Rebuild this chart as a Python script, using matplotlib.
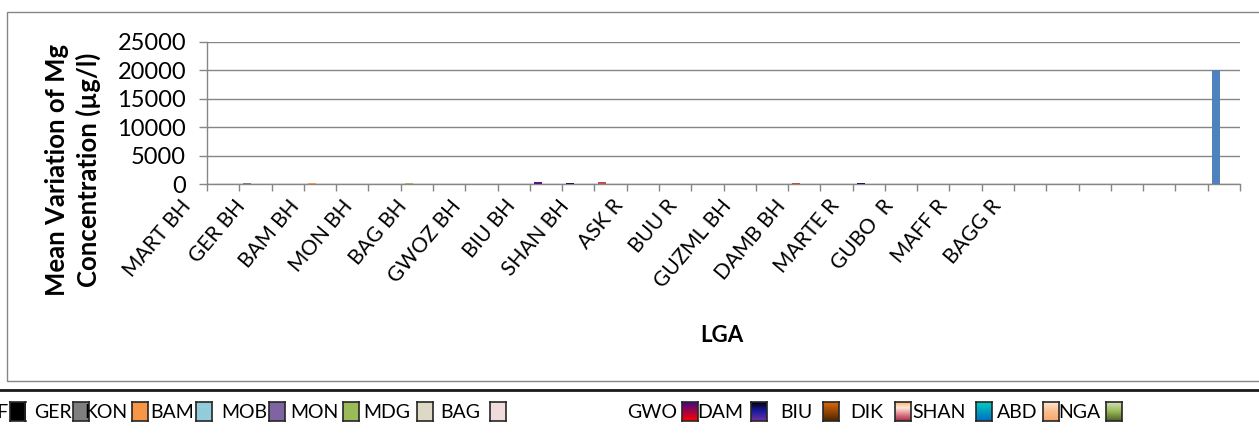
import numpy as np
import matplotlib.pyplot as plt
from matplotlib.colors import LinearSegmentedColormap
from matplotlib.patches import Rectangle
from matplotlib.lines import Line2D

plt.rcParams['font.family'] = ['Lato', 'DejaVu Sans']

# sampling sites shown on the category axis (every second category is labelled)
lga_labels = ['MART BH', 'GER BH', 'BAM BH', 'MON BH', 'BAG BH', 'GWOZ BH', 'BIU BH',
              'SHAN BH', 'ASK R', 'BUU R', 'GUZML BH', 'DAMB BH', 'MARTE R', 'GUBO  R',
              'MAFF R', 'BAGG R']

# mean Mg per category slot (µg/l)
mg_mean = [0, 150, 0, 170, 0, 0, 160, 0, 0, 0, 380, 220, 350, 40, 40, 40,
           40, 40, 180, 0, 220, 0, 40, 0, 0, 0, 0, 0, 40, 0, 0, 20000]
bar_colors = ['#7f7f7f', '#7f7f7f', '#7f7f7f', '#f79646', '#7f7f7f', '#7f7f7f', '#9bbb59', '#7f7f7f',
              '#7f7f7f', '#7f7f7f', '#5a1280', '#1c1c50', '#c0504d', '#c4bd97', '#b7dee8', '#e6b9b8',
              '#ccc1da', '#d7e4bd', '#c0504d', '#7f7f7f', '#1c1c50', '#7f7f7f', '#ccc1da', '#7f7f7f',
              '#7f7f7f', '#7f7f7f', '#7f7f7f', '#7f7f7f', '#c4bd97', '#7f7f7f', '#7f7f7f', '#4f81bd']

# series keys and their fills (one colour = flat, several = vertical gradient)
legend_names = ['MAF', 'GER', 'KON', 'BAM', 'MOB', 'MON', 'MDG', 'BAG',
                'GWO', 'DAM', 'BIU', 'DIK', 'SHAN', 'ABD', 'NGA']
legend_fills = [['#000000'], ['#7f7f7f'], ['#f79646'], ['#92cddc'], ['#8064a2'],
                ['#9bbb59'], ['#ddd9c4'], ['#f2dcdb'],
                ['#3c0a8c', '#ff0000'],
                ['#000000', '#1a1aa0', '#7030a0'],
                ['#e46c0a', '#4d2600'],
                ['#fbb05f', '#fde9d9', '#e0808a', '#a0304a'],
                ['#00d0c0', '#0070c0'],
                ['#fde9d9', '#fabf8f', '#f8a870'],
                ['#d7e4bd', '#9bbb59', '#4f6228']]

W, H = 1259, 445
fig = plt.figure(figsize=(W / 100, H / 100), dpi=100)

grey = '#868686'
ax = fig.add_axes([207 / W, 1 - 184.3 / H, 1033 / W, 142.6 / H])
x = np.arange(len(mg_mean))
ax.bar(x - 0.25, mg_mean, width=0.25, color=bar_colors, zorder=3)
ax.set_xlim(-0.5, len(mg_mean) - 0.5)
ax.set_ylim(0, 25000)
ax.set_yticks(np.arange(0, 25001, 5000))
ax.set_xticks(np.arange(-0.5, len(mg_mean)))
ax.set_xticklabels([])
ax.grid(axis='y', color=grey, lw=1.0)
ax.set_axisbelow(True)
for s in ['top', 'right']:
    ax.spines[s].set_visible(False)
for s in ['left', 'bottom']:
    ax.spines[s].set_color(grey)
    ax.spines[s].set_linewidth(1.0)
ax.tick_params(axis='x', length=5, color=grey, width=1.0)
ax.tick_params(axis='y', length=6, color=grey, width=1.0, labelsize=17, pad=9)

# category labels, rotated
for k, name in enumerate(lga_labels):
    ax.text(-0.0116 + 0.0523 * k, -0.082, name, transform=ax.transAxes,
            rotation=50, ha='right', va='top', fontsize=15, clip_on=False)

fig.text(73 / W, 1 - 170 / H, 'Mean Variation of Mg\nConcentration (µg/l)',
         rotation=90, ha='center', va='center', fontsize=18.5, fontweight='bold',
         linespacing=1.3)
fig.text(722 / W, 1 - 335 / H, 'LGA', ha='center', va='center',
         fontsize=16, fontweight='bold')

# chart frame and legend rule
fig.add_artist(Rectangle((7 / W, 1 - 381 / H), (1275 - 7) / W, (381 - 12) / H,
                         fill=False, ec=grey, lw=1.0, transform=fig.transFigure))
fig.add_artist(Line2D([0, 1], [1 - 390 / H] * 2, color='#1a1a1a', lw=2,
                      transform=fig.transFigure))

# legend: name followed by its swatch
legend_text_end = [8, 72, 127, 194, 267, 338, 410, 480, 677, 743, 813, 883, 966, 1037, 1100]
legend_box_x = [9.5, 73, 132, 196, 269, 343, 417, 490, 682, 751, 823, 895, 976, 1043, 1106]
for name, fill, tx, bx in zip(legend_names, legend_fills, legend_text_end, legend_box_x):
    fig.text(tx / W, 1 - 413 / H, name, ha='right', va='center', fontsize=14)
    bax = fig.add_axes([bx / W, 1 - 421 / H, 16 / W, 19 / H])
    stops = fill if len(fill) > 1 else fill * 2
    cmap = LinearSegmentedColormap.from_list('fill', stops)
    bax.imshow(np.linspace(0, 1, 32).reshape(-1, 1), cmap=cmap, aspect='auto')
    bax.set_xticks([])
    bax.set_yticks([])
    for sp in bax.spines.values():
        sp.set_color('#262626')
        sp.set_linewidth(1.2)

fig.savefig('out.png', dpi=100)
